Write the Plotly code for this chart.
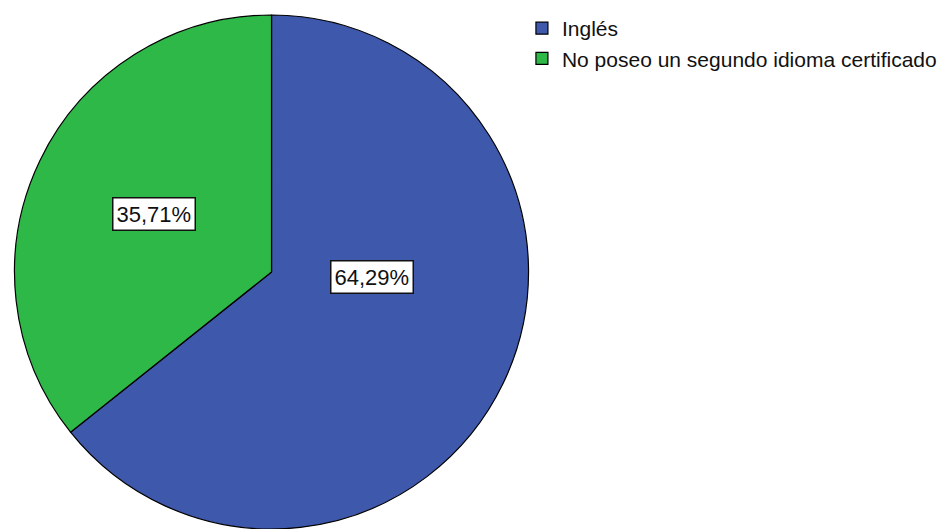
import plotly.graph_objects as go

labels = ["Inglés", "No poseo un segundo idioma certificado"]
values = [64.29, 35.71]
colors = ["#3E58AC", "#2EB848"]

# page body has an 8px margin, so figure is slightly smaller than the window
W, H = 943, 521
label_pos = [(0.3855, 0.4846), (0.1543, 0.6046)]  # annotation positions (paper)

FONT = "Liberation Sans, Arial, sans-serif"

fig = go.Figure()
fig.add_trace(go.Pie(
    labels=labels, values=values, sort=False, direction="clockwise", rotation=0,
    marker=dict(colors=colors, line=dict(color="black", width=1.2)),
    textinfo="none", hoverinfo="label+percent",
    domain=dict(x=[0.0069, 0.552], y=[0.0, 0.9866]),
))

for v, (px, py) in zip(values, label_pos):
    fig.add_annotation(
        x=px, y=py, xref="paper", yref="paper", showarrow=False,
        xanchor="center", yanchor="middle",
        text=f"{v:.2f}%".replace(".", ","),
        font=dict(family=FONT, size=22, color="#111111"),
        bgcolor="white", bordercolor="#111111", borderwidth=1.5, borderpad=3,
    )

fig.update_layout(
    width=W, height=H,
    margin=dict(l=0, r=0, t=0, b=0),
    paper_bgcolor="white", plot_bgcolor="white",
    font=dict(family=FONT, size=21, color="#111111"),
    legend=dict(x=0.545, y=1.0, xanchor="left", yanchor="top",
                font=dict(size=21), itemwidth=30, tracegroupgap=0,
                bgcolor="rgba(0,0,0,0)"),
)

fig.write_html("out.html")
